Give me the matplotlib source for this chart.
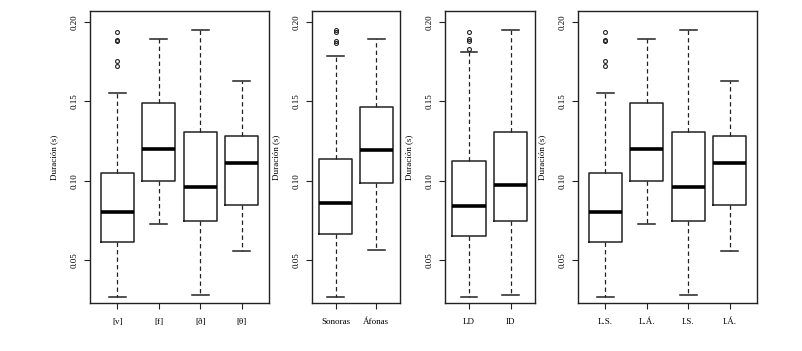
import matplotlib
matplotlib.use("Agg")
from matplotlib import pyplot as plt

plt.rcParams['font.family'] = ['Liberation Serif', 'DejaVu Serif']

# stats per box: whisker low, q1, median, q3, whisker high, outliers
sonido_labels = ['[v]', '[f]', '[ð]', '[θ]']
sonido_stats = [
    (0.0269, 0.0616, 0.0803, 0.1050, 0.1555, [0.1935, 0.1885, 0.1880, 0.1752, 0.1725]),
    (0.0729, 0.1000, 0.1197, 0.1490, 0.1895, []),
    (0.0281, 0.0746, 0.0962, 0.1305, 0.1950, []),
    (0.0559, 0.0849, 0.1111, 0.1284, 0.1630, []),
]

sonoridad_labels = ['Sonoras', 'Áfonas']
sonoridad_stats = [
    (0.0269, 0.0662, 0.0857, 0.1139, 0.1786, [0.1948, 0.1935, 0.1878, 0.1866]),
    (0.0561, 0.0985, 0.1191, 0.1464, 0.1895, []),
]

punto_labels = ['LD', 'ID']
punto_stats = [
    (0.0269, 0.0653, 0.0840, 0.1124, 0.1813, [0.1935, 0.1892, 0.1880, 0.1832]),
    (0.0281, 0.0746, 0.0970, 0.1305, 0.1950, []),
]

combo_labels = ['L.S.', 'L.Á.', 'I.S.', 'I.Á.']
combo_stats = sonido_stats

panels = [
    (sonido_labels, sonido_stats, [90, 269]),
    (sonoridad_labels, sonoridad_stats, [312, 400]),
    (punto_labels, punto_stats, [445, 535]),
    (combo_labels, combo_stats, [578, 757]),
]

W, H = 803, 351
fig = plt.figure(figsize=(W / 100, H / 100), dpi=100)

for labels, stats, (x0, x1) in panels:
    ax = fig.add_axes([x0 / W, 1 - 303 / H, (x1 - x0) / W, 292 / H])
    bstats = [
        dict(whislo=s[0], q1=s[1], med=s[2], q3=s[3], whishi=s[4], fliers=s[5], label=l)
        for l, s in zip(labels, stats)
    ]
    n = len(labels)
    ax.bxp(
        bstats, positions=range(1, n + 1), widths=0.8, capwidths=0.4,
        boxprops=dict(color='#222222', linewidth=1.1),
        medianprops=dict(color='black', linewidth=2.6, solid_capstyle='butt'),
        whiskerprops=dict(color='#222222', linewidth=0.9, linestyle=(0, (3.5, 2.5))),
        capprops=dict(color='#222222', linewidth=1.1),
        flierprops=dict(marker='o', markersize=2.8, markerfacecolor='none',
                        markeredgecolor='#222222', markeredgewidth=0.8),
    )
    span = n
    ax.set_xlim(0.5 - 0.04 * span, n + 0.5 + 0.04 * span)
    ax.set_ylim(0.0229, 0.2069)
    ax.set_yticks([0.05, 0.10, 0.15, 0.20])
    ax.set_yticklabels(['0.05', '0.10', '0.15', '0.20'], rotation=90, va='center')
    ax.set_xticks(range(1, n + 1))
    ax.set_xticklabels(labels)
    ax.tick_params(axis='both', labelsize=6.5, length=4, width=0.8,
                   color='#222222', pad=7)
    ax.tick_params(axis='y', pad=4)
    for sp in ax.spines.values():
        sp.set_linewidth(1.0)
        sp.set_color('#222222')
    ax.set_ylabel('Duración (s)', fontsize=6.5, labelpad=9)

fig.savefig('out.png', dpi=100)
